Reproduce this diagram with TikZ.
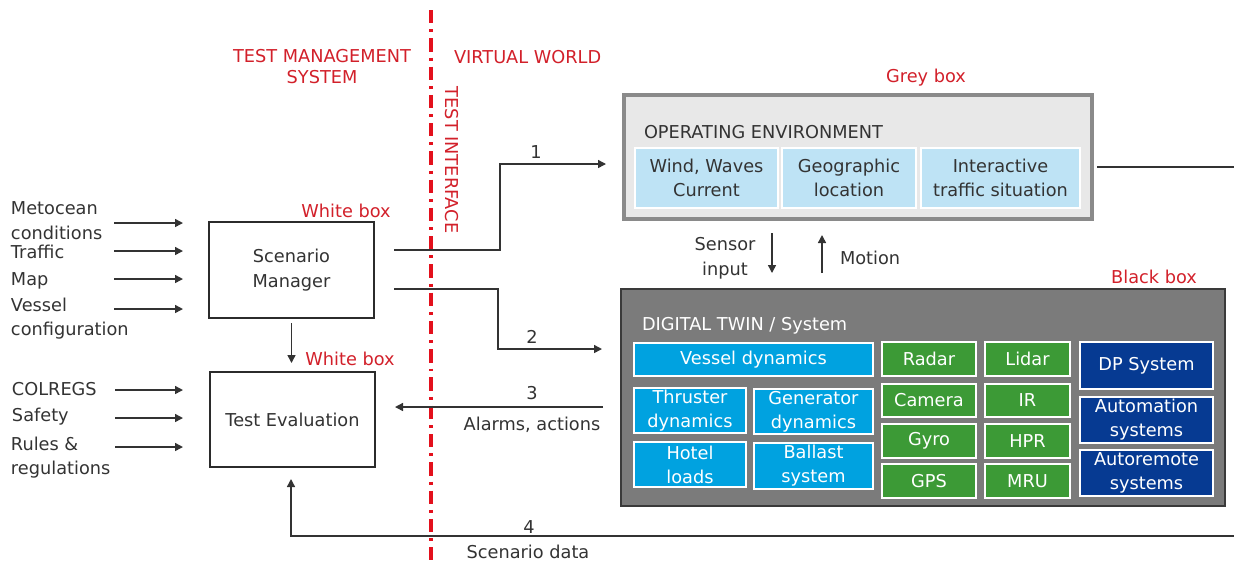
\documentclass[tikz,border=0pt]{standalone}
\usepackage{fontspec}
\setmainfont{DejaVu Sans}
\usetikzlibrary{arrows.meta,calc}
\definecolor{txt}{HTML}{333333}
\definecolor{redc}{HTML}{D2202A}
\definecolor{redl}{HTML}{E3101C}
\definecolor{boxdark}{HTML}{2B2B2B}
\definecolor{gfill}{HTML}{E8E8E8}
\definecolor{gborder}{HTML}{8A8A8A}
\definecolor{bfill}{HTML}{7B7B7B}
\definecolor{bborder}{HTML}{3A3A3A}
\definecolor{lightb}{HTML}{BEE3F5}
\definecolor{cyanb}{HTML}{00A2E0}
\definecolor{greenc}{HTML}{3C9A36}
\definecolor{navyc}{HTML}{063A92}
\begin{document}
\begin{tikzpicture}[x=0.75pt,y=-0.75pt,
  every node/.style={inner sep=0pt, outer sep=0pt, text=txt, font=\fontsize{13.3pt}{18.5pt}\selectfont},
  sz/.style 2 args={minimum width=0.75pt*#1, minimum height=0.75pt*#2},
  redlbl/.style={text=redc},
  wbox/.style={draw=boxdark, line width=2.2pt, fill=white, align=center},
  cellbase/.style={draw=white, line width=1pt, align=center, text=white, font=\fontsize{13.3pt}{18pt}\selectfont},
  bcell/.style={cellbase, fill=cyanb},
  gcell/.style={cellbase, fill=greenc},
  dcell/.style={cellbase, fill=navyc},
  lcell/.style={fill=lightb, draw=white, line width=0.8pt, align=center, text=txt, font=\fontsize{13.3pt}{18pt}\selectfont},
  conn/.style={draw=txt, line width=1.1pt},
  arr/.style={conn, -{Triangle[length=6pt,width=6pt]}},
  redline/.style={draw=redl, line width=2.3pt, dash pattern=on 10pt off 4.5pt on 2.2pt off 4.5pt}
]
\useasboundingbox (0,0) rectangle (1234,562);

% divider
\coordinate (rt) at (431,10);
\coordinate (rb) at (431,562);
\draw[redline] (rt) -- (rb);

% red headings
\node[redlbl, align=center, font=\fontsize{13.3pt}{15.8pt}\selectfont] (tms) at (322,66.5) {TEST MANAGEMENT\\SYSTEM};
\node[redlbl, anchor=west] (vw) at (454,57) {VIRTUAL WORLD};
\node[redlbl, rotate=-90] (ti) at (452,160) {TEST INTERFACE};
\node[redlbl] (gbl) at (926,78) {Grey box};
\node[redlbl] (bbl) at (1154,277) {Black box};
\node[redlbl] (wb1) at (346,211) {White box};
\node[redlbl] (wb2) at (350,359) {White box};

% white boxes
\node[wbox, sz={165}{96}] (sm) at (291.5,270) {Scenario\\Manager};
\node[wbox, sz={165}{95}] (te) at (292.5,419.5) {Test Evaluation};

% input labels
\node[anchor=west, align=left] (met) at (11,220.5) {Metocean\\conditions};
\node[anchor=west] (trf) at (11,252) {Traffic};
\node[anchor=west] (map) at (11,281) {Map};
\node[anchor=west, align=left] (ves) at (11,318.5) {Vessel\\configuration};
\node[anchor=west] (col) at (12,389) {COLREGS};
\node[anchor=west] (saf) at (12,417) {Safety};
\node[anchor=west, align=left] (rul) at (11,457.5) {Rules \&\\regulations};

% input arrows
\draw[arr] ($(sm.west)+(-95,-47)$) -- ++(69,0);
\draw[arr] ($(sm.west)+(-95,-19)$) -- ++(69,0);
\draw[arr] ($(sm.west)+(-95,9)$) -- ++(69,0);
\draw[arr] ($(sm.west)+(-95,39)$) -- ++(69,0);
\draw[arr] ($(te.west)+(-95,-29.5)$) -- ++(68,0);
\draw[arr] ($(te.west)+(-95,-1.5)$) -- ++(68,0);
\draw[arr] ($(te.west)+(-95,27.5)$) -- ++(68,0);

% grey box
\node[draw=gborder, fill=gfill, line width=2.4pt, sz={468}{124}] (env) at (858,157) {};
\node[anchor=west] (envt) at (644,132) {OPERATING ENVIRONMENT};
\node[lcell, sz={143}{60}] (c1) at (706.5,178) {Wind, Waves\\Current};
\node[lcell, sz={134}{60}] (c2) at (849,178) {Geographic\\location};
\node[lcell, sz={159}{60}] (c3) at (1000.5,178) {Interactive\\traffic situation};

% black box
\node[draw=bborder, fill=bfill, line width=2.2pt, sz={604}{217}] (dt) at (923,397.5) {};
\node[anchor=west, text=white] (dtt) at (642,326) {DIGITAL TWIN / System};
\node[bcell, sz={239}{33}] (vd) at (753.5,359.5) {Vessel dynamics};
\node[bcell, sz={112}{45}] (thr) at (690,410.5) {Thruster\\dynamics};
\node[bcell, sz={119}{45}] (gen) at (813.5,411.5) {Generator\\dynamics};
\node[bcell, sz={112}{45}] (hot) at (690,464.5) {Hotel\\loads};
\node[bcell, sz={119}{46}] (bal) at (813.5,466) {Ballast\\system};
\node[gcell, sz={94}{34}] (rad) at (929,359) {Radar};
\node[gcell, sz={94}{33}] (cam) at (929,400.5) {Camera};
\node[gcell, sz={94}{34}] (gyr) at (929,441) {Gyro};
\node[gcell, sz={94}{34}] (gps) at (929,481) {GPS};
\node[gcell, sz={85}{34}] (lid) at (1027.5,359) {Lidar};
\node[gcell, sz={85}{33}] (ir) at (1027.5,400.5) {IR};
\node[gcell, sz={85}{34}] (hpr) at (1027.5,441) {HPR};
\node[gcell, sz={85}{34}] (mru) at (1027.5,481) {MRU};
\node[dcell, sz={133}{47}] (dp) at (1146.5,365.5) {DP System};
\node[dcell, sz={133}{46}] (aut) at (1146.5,420) {Automation\\systems};
\node[dcell, sz={133}{46}] (arm) at (1146.5,473) {Autoremote\\systems};

% connectors
\coordinate (p1) at ($(sm.east)+(20,-20)$);
\coordinate (p1e) at ($(env.west)+(-18,7)$);
\draw[arr] (p1) -| ($(p1)!0.5!(p1e)$) |- (p1e);
\node (n1) at (536,152) {1};

\coordinate (p2) at ($(sm.east)+(20,19)$);
\coordinate (p2e) at ($(dt.west)+(-19,-48.5)$);
\draw[arr] (p2) -| ($(p2)!0.5!(p2e)$) |- (p2e);
\node (n2) at (532,337) {2};

\coordinate (p3) at ($(dt.west)+(-18,9.5)$);
\coordinate (p3e) at ($(te.east)+(20,-12.5)$);
\draw[arr] (p3) -- (p3e);
\node (n3) at (532,393) {3};
\node (al) at (532,425) {Alarms, actions};

\coordinate (p4) at ($(dt.south)+(311,30)$);
\coordinate (p4e) at ($(te.south)+(-1.5,12)$);
\draw[arr] (p4) -| (p4e);
\node (n4) at (529,527) {4};
\node (sd) at (528,552) {Scenario data};

\draw[arr] ($(sm.south)+(0,5)$) -- ++(0,40);

\draw[conn] ($(env.east)+(5,10)$) -- ++(137,0);

\draw[arr] ($(env.south)+(-86,14)$) -- ++(0,40);
\node[align=center] (si) at (725,258) {Sensor\\input};
\draw[arr] ($(dt.north)+(-101,-16)$) -- ++(0,-38);
\node[anchor=west] (mo) at (840,258) {Motion};
\end{tikzpicture}
\end{document}
